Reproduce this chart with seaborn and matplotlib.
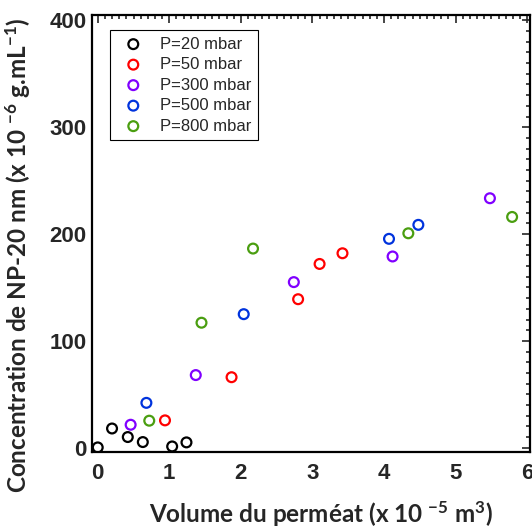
import numpy as np
import pandas as pd
import matplotlib
matplotlib.use('Agg')
import matplotlib.pyplot as plt
from matplotlib.ticker import MultipleLocator
import seaborn as sns

sns.set_style('white')
plt.rcParams['font.family'] = ['Liberation Sans', 'DejaVu Sans']
plt.rcParams['mathtext.fontset'] = 'custom'
plt.rcParams['mathtext.rm'] = 'Lato:bold'
plt.rcParams['mathtext.it'] = 'Lato:bold'
plt.rcParams['mathtext.bf'] = 'Lato:bold'

# data
labels = ['P=20 mbar', 'P=50 mbar', 'P=300 mbar', 'P=500 mbar', 'P=800 mbar']
colors = ['#000000', '#ff0000', '#8000ff', '#0033dd', '#4a9e10']

x_20 = [0.0, 0.20, 0.42, 0.63, 1.04, 1.24]
y_20 = [0.3, 18, 10, 5.3, 1.2, 5]
x_50 = [0.94, 1.87, 2.80, 3.10, 3.42]
y_50 = [25.6, 66, 139, 172, 182]
x_300 = [0.46, 1.37, 2.74, 4.12, 5.48]
y_300 = [21.5, 68, 155, 179, 233.5]
x_500 = [0.68, 2.04, 4.07, 4.48]
y_500 = [42, 125, 195.5, 208.6]
x_800 = [0.72, 1.45, 2.17, 4.34, 5.79]
y_800 = [25.3, 117, 186.4, 200.7, 216]

xs = [x_20, x_50, x_300, x_500, x_800]
ys = [y_20, y_50, y_300, y_500, y_800]

fig = plt.figure(figsize=(5.32, 5.29), dpi=100)
ax = fig.add_axes([92/532, 77/529, 438/532, 437/529])

for lab, col, x, y in zip(labels, colors, xs, ys):
    df = pd.DataFrame({'x': x, 'y': y})
    sns.scatterplot(data=df, x='x', y='y', ax=ax, marker='o', s=50,
                    facecolor='none', edgecolor=col, linewidth=1.6, label=lab)

ax.set_xlim(-0.08, 6.04)
ax.set_ylim(-4, 405)
ax.xaxis.set_major_locator(MultipleLocator(1))
ax.xaxis.set_minor_locator(MultipleLocator(0.1))
ax.yaxis.set_major_locator(MultipleLocator(100))
ax.yaxis.set_minor_locator(MultipleLocator(10))
ax.tick_params(which='both', direction='in', top=True, right=True, width=1.2)
ax.tick_params(which='major', length=6)
ax.tick_params(which='minor', length=3)
ax.tick_params(axis='x', which='major', pad=8)
ax.tick_params(axis='y', which='major', pad=4)
for t in ax.get_xticklabels() + ax.get_yticklabels():
    t.set_fontsize(16)
    t.set_fontweight('bold')
for s in ax.spines.values():
    s.set_linewidth(1.6)
    s.set_color('black')

ax.set_xlabel(r'Volume du perméat (x 10 $^{-5}$ m$^{3}$)', family='Lato',
              fontweight='bold', fontsize=17.5)
ax.set_ylabel(r'Concentration de NP-20 nm (x 10 $^{-6}$ g.mL$^{-1}$)', family='Lato',
              fontweight='bold', fontsize=17.5)
ax.xaxis.set_label_coords(0.523, -0.108)
ax.yaxis.set_label_coords(-0.135, 0.45)

leg = ax.legend(loc='upper left', bbox_to_anchor=(0.041, 0.966), fontsize=12,
                frameon=True, fancybox=False, edgecolor='black', framealpha=1,
                handletextpad=0.6, borderpad=0.4, labelspacing=0.33,
                borderaxespad=0)
leg.get_frame().set_linewidth(0.8)

fig.savefig('out.png', dpi=100)
